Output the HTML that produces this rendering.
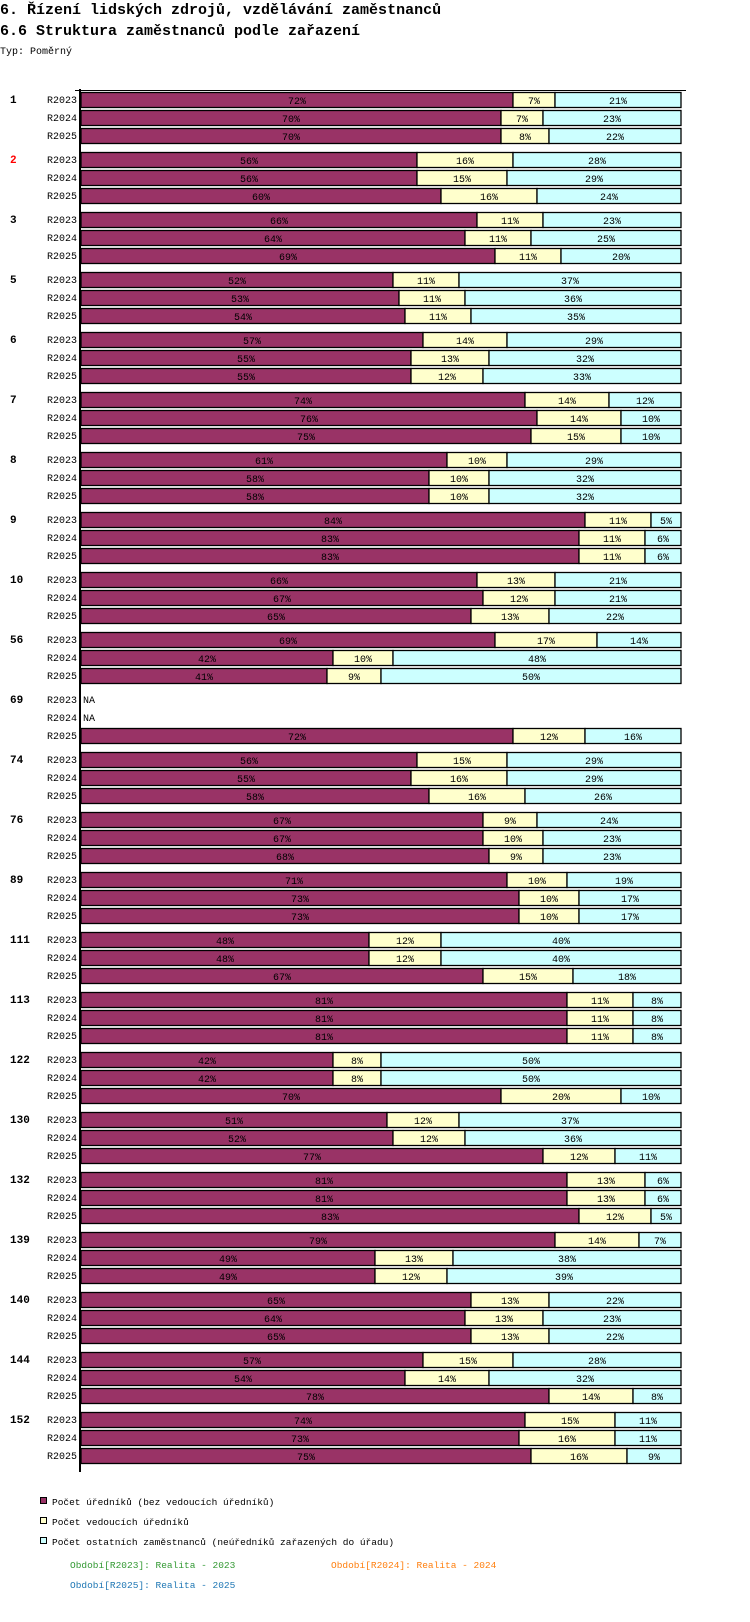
<!DOCTYPE html>
<html><head><meta charset="utf-8"><style>
body{margin:0;background:#fff;width:750px;height:1622px;overflow:hidden}
svg{display:block}
text{font-family:"Liberation Mono","DejaVu Sans Mono",monospace}
</style></head><body>
<svg id="chart" width="750" height="1622" xmlns="http://www.w3.org/2000/svg">
<text x="0" y="14" font-size="15" font-weight="bold" fill="#000">6. Řízení lidských zdrojů, vzdělávání zaměstnanců</text>
<text x="0" y="35" font-size="15" font-weight="bold" fill="#000">6.6 Struktura zaměstnanců podle zařazení</text>
<text x="0" y="54" font-size="10" fill="#000">Typ: Poměrný</text>
<line x1="75" y1="90.5" x2="686" y2="90.5" stroke="#000" stroke-width="1"/>
<line x1="80" y1="89" x2="80" y2="1472" stroke="#000" stroke-width="2"/>
<g id="bars"></g>
<g>
<rect x="40.5" y="1497.5" width="6" height="6" fill="#993366" stroke="#000"/>
<text x="52" y="1505" font-size="9.5">Počet úředníků (bez vedoucích úředníků)</text>
<rect x="40.5" y="1517.5" width="6" height="6" fill="#ffffcc" stroke="#000"/>
<text x="52" y="1525" font-size="9.5">Počet vedoucích úředníků</text>
<rect x="40.5" y="1537.5" width="6" height="6" fill="#ccffff" stroke="#000"/>
<text x="52" y="1545" font-size="9.5">Počet ostatních zaměstnanců (neúředníků zařazených do úřadu)</text>
<text x="70" y="1568" font-size="9.5" fill="#339933">Období[R2023]: Realita - 2023</text>
<text x="331" y="1568" font-size="9.5" fill="#ff7f0e">Období[R2024]: Realita - 2024</text>
<text x="70" y="1588" font-size="9.5" fill="#1f77b4">Období[R2025]: Realita - 2025</text>
</g>
</svg>
<script>
const groups=["1","2","3","5","6","7","8","9","10","56","69","74","76","89","111","113","122","130","132","139","140","144","152"];
const periods=["R2023","R2024","R2025"];
const officials=[[72,70,70],[56,56,60],[66,64,69],[52,53,54],[57,55,55],[74,76,75],[61,58,58],[84,83,83],[66,67,65],[69,42,41],[null,null,72],[56,55,58],[67,67,68],[71,73,73],[48,48,67],[81,81,81],[42,42,70],[51,52,77],[81,81,83],[79,49,49],[65,64,65],[57,54,78],[74,73,75]];
const managers=[[7,7,8],[16,15,16],[11,11,11],[11,11,11],[14,13,12],[14,14,15],[10,10,10],[11,11,11],[13,12,13],[17,10,9],[null,null,12],[15,16,16],[9,10,9],[10,10,10],[12,12,15],[11,11,11],[8,8,20],[12,12,12],[13,13,12],[14,13,12],[13,13,13],[15,14,14],[15,16,16]];
const others=[[21,23,22],[28,29,24],[23,25,20],[37,36,35],[29,32,33],[12,10,10],[29,32,32],[5,6,6],[21,21,22],[14,48,50],[null,null,16],[29,29,26],[24,23,23],[19,17,17],[40,40,18],[8,8,8],[50,50,10],[37,36,11],[6,6,5],[7,38,39],[22,23,22],[28,32,8],[11,11,9]];
const NS="http://www.w3.org/2000/svg";
const X0=81,W=600,Y0=92,GP=60,RP=18,BH=15;
const colors=["#993366","#ffffcc","#ccffff"];
const segNames=["officials","managers","others"];
const g=document.getElementById('bars');
function mk(tag,attrs,txt){const e=document.createElementNS(NS,tag);for(const k in attrs)e.setAttribute(k,attrs[k]);if(txt!==undefined)e.textContent=txt;g.appendChild(e);return e;}
function xs(v,total){return v/total*W;}
groups.forEach((grp,gi)=>{
  const gy=Y0+gi*GP;
  const gl=mk('text',{x:10,y:gy+11,'font-size':11,'font-weight':'bold',fill:grp==="2"?"#ff0000":"#000"},grp);
  
  
  periods.forEach((p,pi)=>{
    const y=gy+pi*RP;
    const pl=mk('text',{x:77,y:y+11,'font-size':10,'text-anchor':'end'},p);
    
    
    const vals=[officials[gi][pi],managers[gi][pi],others[gi][pi]];
    if(vals[0]===null){
      const na=mk('text',{x:83,y:y+11,'font-size':10},'NA');
      
      
      return;
    }
    const total=vals[0]+vals[1]+vals[2];
    let x=X0;
    vals.forEach((v,si)=>{
      const w=xs(v,total);
      const r=mk('rect',{x:x,y:y+0.5,width:w,height:BH,fill:colors[si],stroke:'#000','stroke-width':1.3});
      
      
      const t=mk('text',{x:x+w/2,y:y+12,'font-size':10,'text-anchor':'middle'},v+'%');
      
      
      x+=w;
    });
  });
});
</script>
</body></html>
